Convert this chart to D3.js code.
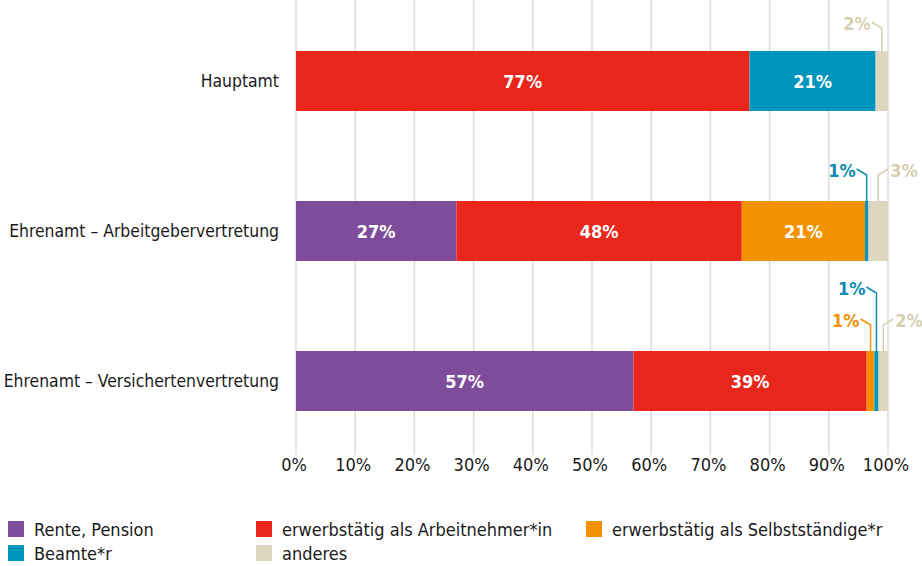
<!DOCTYPE html>
<html><head><meta charset="utf-8">
<script src="https://cdn.jsdelivr.net/npm/d3@7"></script>
<style>
body{margin:0;background:#fff;}
svg{font-family:"Liberation Sans Narrow","DejaVu Sans Condensed","Roboto Condensed","Arial Narrow",sans-serif;}
</style></head>
<body><svg id="c" width="922" height="566"></svg>
<script>
const categories = ["Hauptamt","Ehrenamt – Arbeitgebervertretung","Ehrenamt – Versichertenvertretung"];
const seriesNames = ["Rente, Pension","erwerbstätig als Arbeitnehmer*in","erwerbstätig als Selbstständige*r","Beamte*r","anderes"];
const seriesColors = ["#7f4c9c","#e8261c","#f39200","#0095bc","#ddd7c0"];
const rente = [0, 27.1, 57.0];
const arbeitnehmer = [76.6, 48.2, 39.4];
const selbststaendig = [0, 20.8, 1.3];
const beamte = [21.3, 0.6, 0.7];
const anderes = [2.1, 3.3, 1.6];
const tickValues = [0,10,20,30,40,50,60,70,80,90,100];

const series = [rente, arbeitnehmer, selbststaendig, beamte, anderes];
const svg = d3.select("#c");
const x = d3.scaleLinear().domain([0,100]).range([296,888]);
const y = d3.scaleBand().domain(categories).range([6,456]).paddingInner(0.6).paddingOuter(0.3);

// gridlines
svg.append("g").selectAll("line").data(tickValues).join("line")
  .attr("x1",d=>x(d)).attr("x2",d=>x(d)).attr("y1",0).attr("y2",455)
  .attr("stroke","#dcdcdc").attr("stroke-width",1.5);

// tick labels
svg.append("g").selectAll("text").data(tickValues).join("text")
  .attr("x",d=>x(d)-2).attr("y",471).attr("text-anchor","middle")
  .attr("font-size",18).attr("fill","#1a1a1a").text(d=>d+"%");

// category labels
svg.append("g").selectAll("text").data(categories).join("text")
  .attr("x",279).attr("y",d=>y(d)+y.bandwidth()/2+6).attr("text-anchor","end")
  .attr("font-size",17.4).attr("fill","#1a1a1a").text(d=>d);

// stacked bars
const segs = [];
categories.forEach((c,i)=>{
  let acc=0;
  series.forEach((s,k)=>{ segs.push({cat:c,ci:i,k,v:s[i],x0:acc,x1:acc+s[i]}); acc+=s[i]; });
});
const bars = svg.append("g");
bars.selectAll("rect").data(segs.filter(d=>d.v>0)).join("rect")
  .attr("x",d=>x(d.x0)).attr("width",d=>x(d.x1)-x(d.x0))
  .attr("y",d=>y(d.cat)).attr("height",y.bandwidth())
  .attr("fill",d=>seriesColors[d.k]);

// inside labels
bars.selectAll("text").data(segs.filter(d=>d.v>=10)).join("text")
  .attr("x",d=>x((d.x0+d.x1)/2)).attr("y",d=>y(d.cat)+y.bandwidth()/2+6.5)
  .attr("text-anchor","middle").attr("font-size",18).attr("font-weight","bold")
  .attr("fill","#fff").text(d=>Math.round(d.v)+"%");

// outside annotations: placement (vertical offset above bar, side)
const place = {"0-4":[27,"l"],"1-3":[30,"l"],"1-4":[30,"r"],"2-3":[62,"l"],"2-2":[30,"l"],"2-4":[30,"r"]};
const labelColors = ["#7f4c9c","#e8261c","#f39200","#0f8ab0","#d6cfb2"];
const ann = svg.append("g");
segs.filter(d=>d.v>0 && d.v<10).forEach(d=>{
  const p = place[d.ci+"-"+d.k];
  const top = y(d.cat);
  const cx = x((d.x0+d.x1)/2);
  const ty = top - p[0];
  const col = labelColors[d.k];
  const tx = p[1]==="l" ? cx-11 : cx+11;
  ann.append("path")
    .attr("d",`M${p[1]==="l"?tx+1:tx-1},${ty-2}L${cx},${ty+4}L${cx},${top}`)
    .attr("fill","none").attr("stroke",col).attr("stroke-width",1.5);
  ann.append("text").attr("x",p[1]==="l"?tx:tx+1).attr("y",ty+6)
    .attr("text-anchor",p[1]==="l"?"end":"start")
    .attr("font-size",18).attr("font-weight","bold").attr("fill",col)
    .text(Math.round(d.v)+"%");
});

// legend
const legPos = [[8,521],[256,521],[586,521],[8,545],[256,545]];
const leg = svg.append("g");
seriesNames.forEach((n,i)=>{
  const [lx,ly] = legPos[i];
  leg.append("rect").attr("x",lx).attr("y",ly).attr("width",16).attr("height",16).attr("fill",seriesColors[i]);
  leg.append("text").attr("x",lx+26).attr("y",ly+15).attr("font-size",18).attr("fill","#1a1a1a").text(n);
});
</script></body></html>
